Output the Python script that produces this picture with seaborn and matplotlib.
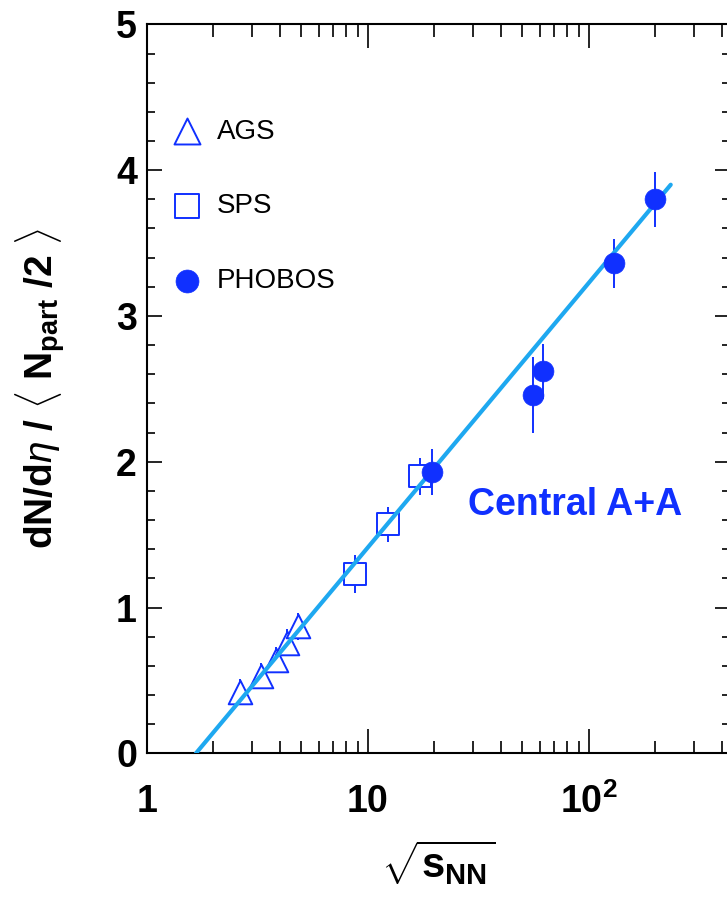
import numpy as np
import pandas as pd
import seaborn as sns
import matplotlib
matplotlib.use("Agg")
import matplotlib.pyplot as plt
from matplotlib.ticker import FixedLocator, FixedFormatter, MultipleLocator, LogLocator, NullFormatter

# Dados
ags_x = [2.63, 3.28, 3.84, 4.32, 4.85]
ags_y = [0.42, 0.53, 0.64, 0.76, 0.87]
ags_err = [0.09, 0.09, 0.09, 0.09, 0.09]

sps_x = [8.77, 12.3, 17.3]
sps_y = [1.23, 1.57, 1.90]
sps_err = [0.13, 0.12, 0.125]

phobos_x = [19.6, 56.0, 62.4, 130.0, 200.0]
phobos_y = [1.93, 2.46, 2.62, 3.36, 3.80]
phobos_err = [0.16, 0.26, 0.19, 0.17, 0.19]

# Ajuste logarítmico (extremos da linha)
fit_x = [1.67, 235.0]
fit_y = [0.0, 3.90]

x_ticks = [1, 10, 100]
x_ticklabels = ['1', '10', r'$\mathbf{10^{2}}$']

blue = '#1030FF'
fit_color = '#1EA8F0'

sns.set_style("ticks", {'text.color': 'black', 'axes.labelcolor': 'black',
                        'xtick.color': 'black', 'ytick.color': 'black',
                        'axes.edgecolor': 'black'})
plt.rcParams['font.family'] = ['Liberation Sans', 'DejaVu Sans']
plt.rcParams['mathtext.fontset'] = 'custom'
plt.rcParams['mathtext.rm'] = 'Liberation Sans'
plt.rcParams['mathtext.it'] = 'Liberation Sans:italic'
plt.rcParams['mathtext.bf'] = 'Liberation Sans:bold'

fig = plt.figure(figsize=(7.27, 9.05), dpi=100)
ax = fig.add_axes([0.2018, 0.1676, 0.8024, 0.8055])

# Barras de erro (só verticais)
ax.errorbar(ags_x, ags_y, yerr=ags_err, fmt='none', ecolor=blue, elinewidth=1.4, capsize=0, zorder=1)
ax.errorbar(sps_x, sps_y, yerr=sps_err, fmt='none', ecolor=blue, elinewidth=1.4, capsize=0, zorder=1)
ax.errorbar(phobos_x, phobos_y, yerr=phobos_err, fmt='none', ecolor=blue, elinewidth=1.4, capsize=0, zorder=1)

df_ags = pd.DataFrame({'x': ags_x, 'y': ags_y})
df_sps = pd.DataFrame({'x': sps_x, 'y': sps_y})
df_phobos = pd.DataFrame({'x': phobos_x, 'y': phobos_y})
df_fit = pd.DataFrame({'x': fit_x, 'y': fit_y})

sns.scatterplot(data=df_ags, x='x', y='y', marker='^', s=17**2, facecolor='white',
                edgecolor=blue, linewidth=1.4, label='AGS', ax=ax, zorder=2)
sns.scatterplot(data=df_sps, x='x', y='y', marker='s', s=16**2, facecolor='white',
                edgecolor=blue, linewidth=1.4, label='SPS', ax=ax, zorder=2)
sns.lineplot(data=df_fit, x='x', y='y', color=fit_color, linewidth=3, ax=ax, zorder=3)
sns.scatterplot(data=df_phobos, x='x', y='y', marker='o', s=15**2, color=blue,
                edgecolor=blue, linewidth=0.5, label='PHOBOS', ax=ax, zorder=4)

ax.set_xscale('log')
ax.set_xlim(1, 436)
ax.set_ylim(0, 5)

# Eixos e marcas
ax.xaxis.set_major_locator(FixedLocator(x_ticks))
ax.xaxis.set_major_formatter(FixedFormatter(x_ticklabels))
ax.xaxis.set_minor_locator(LogLocator(base=10, subs=np.arange(2, 10)))
ax.xaxis.set_minor_formatter(NullFormatter())
ax.yaxis.set_major_locator(MultipleLocator(1))
ax.yaxis.set_minor_locator(MultipleLocator(0.2))

ax.tick_params(which='both', direction='in', top=True, right=True, width=1.2, color='black')
ax.tick_params(axis='x', which='major', length=17, pad=22, labelsize=27)
ax.tick_params(axis='x', which='minor', length=9)
ax.tick_params(axis='y', which='major', length=11, pad=7, labelsize=27)
ax.tick_params(axis='y', which='minor', length=6)
for lab in ax.get_xticklabels() + ax.get_yticklabels():
    lab.set_fontweight('bold')
for sp in ax.spines.values():
    sp.set_linewidth(1.5)

ax.set_xlabel(r'$\mathbf{\sqrt{s_{NN}}}$', fontsize=30, labelpad=12)
ax.set_ylabel(r'dN/d$\eta$ / $\langle$ N$_{\mathbf{part}}$ /2 $\rangle$', fontsize=28, fontweight='bold')
ax.yaxis.set_label_coords(-0.135, 0.5)

ax.text(0.735, 0.34, 'Central A+A', transform=ax.transAxes, color=blue, fontsize=27,
        fontweight='bold', ha='center', va='center')

ax.legend(loc='upper left', bbox_to_anchor=(-0.022, 0.905), frameon=False, fontsize=20,
          labelspacing=1.75, handletextpad=0.1, markerscale=1.1)

fig.savefig('out.png', dpi=100)
